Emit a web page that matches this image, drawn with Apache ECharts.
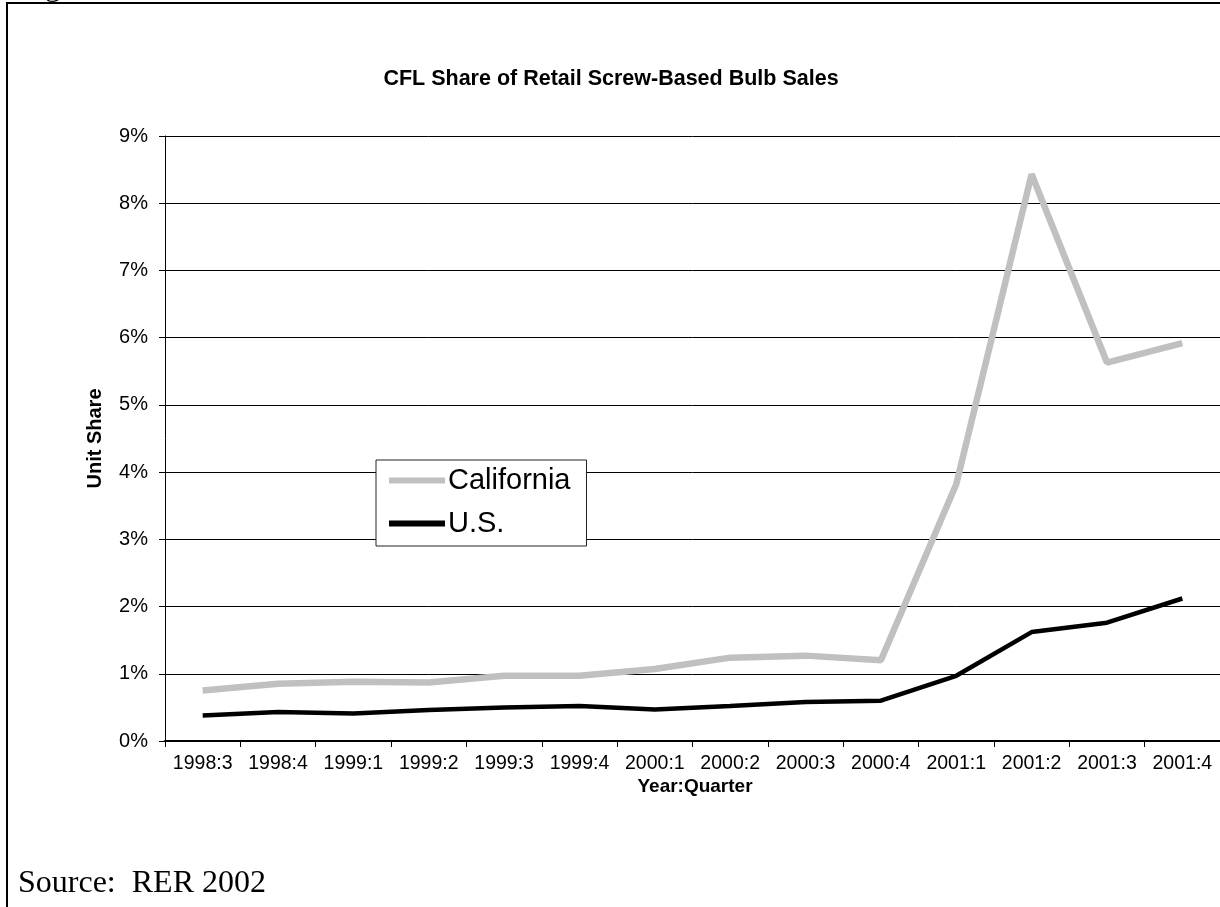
<!DOCTYPE html>
<html>
<head>
<meta charset="utf-8">
<script src="https://cdn.jsdelivr.net/npm/echarts@6/dist/echarts.min.js"></script>
<style>
html,body{margin:0;padding:0;background:#fff;}
#chart{width:1220px;height:907px;}
</style>
</head>
<body>
<div id="chart"></div>
<script>
const categories = ['1998:3','1998:4','1999:1','1999:2','1999:3','1999:4','2000:1','2000:2','2000:3','2000:4','2001:1','2001:2','2001:3','2001:4'];
const california = [0.75,0.85,0.88,0.87,0.97,0.97,1.07,1.24,1.27,1.20,3.82,8.43,5.63,5.92];
const us = [0.38,0.43,0.41,0.46,0.50,0.52,0.47,0.52,0.58,0.60,0.97,1.62,1.76,2.12];
const yTicks = [0,1,2,3,4,5,6,7,8,9];

const FONT = '"Liberation Sans", Arial, sans-serif';
const chart = echarts.init(document.getElementById('chart'));
chart.setOption({
  animation: false,
  backgroundColor: '#fff',
  title: [{
    text: 'CFL Share of Retail Screw-Based Bulb Sales',
    left: 606, top: 63, textAlign: 'center',
    textStyle: {fontFamily: FONT, fontSize: 21.5, fontWeight: 'bold', color: '#000'}
  }, {
    text: 'Year:Quarter',
    left: 695, top: 777, textAlign: 'center', padding: 0,
    textStyle: {fontFamily: FONT, fontSize: 19, fontWeight: 'bold', color: '#000'}
  }],
  grid: {left: 165, top: 136, right: -5, bottom: 166, containLabel: false},
  legend: {
    orient: 'vertical',
    left: 376, top: 460,
    padding: [6, 16, 8, 13],
    itemGap: 14,
    itemWidth: 56, itemHeight: 6,
    icon: 'rect',
    backgroundColor: '#fff',
    borderColor: '#222', borderWidth: 1,
    textStyle: {fontFamily: FONT, fontSize: 29, color: '#000', padding: [0,0,0,-2]},
    data: ['California', 'U.S.']
  },
  xAxis: {
    type: 'category',
    data: categories,
    boundaryGap: true,
    axisLine: {lineStyle: {color: '#000', width: 2}},
    axisTick: {show: true, length: 6, lineStyle: {color: '#000', width: 1}},
    axisLabel: {fontFamily: FONT, fontSize: 19.5, color: '#000', margin: 13, interval: 0}
  },
  yAxis: {
    type: 'value',
    min: 0, max: 9, interval: 1,
    name: 'Unit Share',
    nameLocation: 'middle',
    nameGap: 60,
    nameRotate: 90,
    nameTextStyle: {fontFamily: FONT, fontSize: 20, fontWeight: 'bold', color: '#000'},
    axisLine: {show: true, lineStyle: {color: '#000', width: 1}},
    axisTick: {show: true, length: 6, lineStyle: {color: '#000'}},
    axisLabel: {fontFamily: FONT, fontSize: 20, color: '#000', margin: 17,
      formatter: function (v) { return yTicks.indexOf(v) >= 0 ? v + '%' : ''; }},
    splitLine: {show: true, lineStyle: {color: '#000', width: 1}}
  },
  series: [
    {
      name: 'California', type: 'line', data: california,
      symbol: 'none', lineStyle: {color: '#c0c0c0', width: 6.5}, itemStyle: {color: '#c0c0c0'}, z: 2
    },
    {
      name: 'U.S.', type: 'line', data: us,
      symbol: 'none', lineStyle: {color: '#000', width: 4.5}, itemStyle: {color: '#000'}, z: 3
    }
  ],
  graphic: [
    {type: 'rect', shape: {x: 7, y: 3, width: 1300, height: 1000}, style: {fill: 'none', stroke: '#000', lineWidth: 2}, silent: true, z: -1},
    {type: 'text', left: 18, top: 868, style: {text: 'Source:  RER 2002', font: '32px "Liberation Serif", "Times New Roman", serif', fill: '#000'}},
    {type: 'text', left: 18, top: -29, style: {text: 'Figure 1', font: '32px "Liberation Serif", "Times New Roman", serif', fill: '#000'}}
  ]
});
</script>
</body>
</html>
